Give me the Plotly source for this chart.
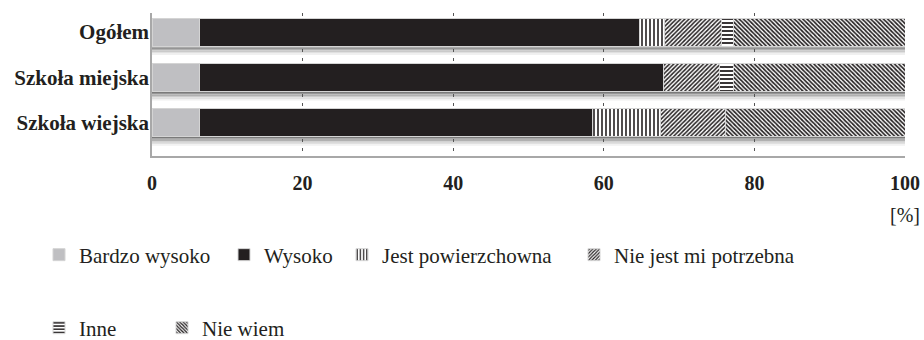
import plotly.graph_objects as go

categories = ["Ogółem", "Szkoła miejska", "Szkoła wiejska"]
bardzo_wysoko = [6.3, 6.3, 6.3]
wysoko = [58.5, 61.6, 52.2]
powierzchowna = [3.3, 0.0, 9.0]
niepotrzebna = [7.5, 7.4, 8.7]
inne = [1.6, 1.9, 0.0]
nie_wiem = [22.8, 22.8, 23.8]
x_ticks = [0, 20, 40, 60, 80, 100]

series = [
    ("Bardzo wysoko", bardzo_wysoko, dict(color="#bfbfc2"), 80, 255),
    ("Wysoko", wysoko, dict(color="#231f20"), 265, 255),
    ("Jest powierzchowna", powierzchowna,
     dict(color="white", pattern=dict(shape="|", size=4, solidity=0.4, fgcolor="#231f20", bgcolor="white", fillmode="replace")), 383, 255),
    ("Nie jest mi potrzebna", niepotrzebna,
     dict(color="white", pattern=dict(shape="/", size=3, solidity=0.5, fgcolor="#231f20", bgcolor="white", fillmode="replace")), 615, 255),
    ("Inne", inne,
     dict(color="white", pattern=dict(shape="-", size=4, solidity=0.45, fgcolor="#231f20", bgcolor="white", fillmode="replace")), 80, 328),
    ("Nie wiem", nie_wiem,
     dict(color="white", pattern=dict(shape="\\", size=3, solidity=0.55, fgcolor="#231f20", bgcolor="white", fillmode="replace")), 203, 328),
]

W, H = 924, 340
ML, MR = 152, 19
MT = 13
MB = H - 156
PH = H - MT - MB
FONT = "Liberation Serif"
fig = go.Figure()
legend_names = ["legend", "legend2", "legend3", "legend4", "legend5", "legend6"]
for i, s in enumerate(series):
    name, vals, mk = s[0], s[1], s[2]
    fig.add_trace(go.Bar(
        name=name, y=categories, x=vals, orientation="h", width=0.615,
        marker=dict(line=dict(color="#d4d4d4", width=1), **mk),
        legend=legend_names[i],
    ))

legend_layouts = {}
for i, s in enumerate(series):
    text_x, row_y = s[3], s[4]
    legend_layouts[legend_names[i]] = dict(
        x=(text_x - 41) / W, xref="container", xanchor="left",
        y=1 - row_y / H, yref="container", yanchor="middle",
        orientation="h", bgcolor="rgba(0,0,0,0)",
        font=dict(family=FONT, size=21, color="#231f20"),
    )

# drop shadows beneath each bar
shadow_cols = ["#7a7a7a", "#959595", "#b0b0b0", "#cacaca", "#e0e0e0", "#f0f0f0"]
for ci in range(len(categories)):
    total = sum(s[1][ci] for s in series)
    for k, c in enumerate(shadow_cols):
        fig.add_shape(type="rect", xref="x", yref="y", x0=0, x1=total,
                      ysizemode="pixel", yanchor=ci,
                      y0=-14 - 1.5 * k, y1=-14 - 1.5 * (k + 1), line=dict(width=0),
                      fillcolor=c, layer="below")

fig.update_layout(
    width=W, height=H, barmode="stack",
    margin=dict(l=ML, r=MR, t=MT, b=MB, autoexpand=False),
    paper_bgcolor="white", plot_bgcolor="white",
    font=dict(family=FONT, color="#231f20"),
    showlegend=True,
    **legend_layouts,
)
fig.update_xaxes(
    range=[0, 100], tickvals=x_ticks, ticktext=[str(v) for v in x_ticks],
    showgrid=True, gridcolor="#555555", gridwidth=1, griddash="3px,6px",
    showline=True, linecolor="#a8a8a8", linewidth=1.5, zeroline=False,
    ticks="", ticklabelstandoff=8, automargin=False,
    tickfont=dict(family=FONT, size=20, color="#231f20", weight="bold"),
)
fig.update_yaxes(
    range=[2.73, -0.42], showgrid=False, showline=True, linecolor="#a8a8a8",
    linewidth=1.5, ticks="", ticklabelstandoff=-3, automargin=False,
    tickfont=dict(family=FONT, size=21, color="#231f20", weight="bold"),
)
fig.add_annotation(text="[%]", x=100, xref="x", y=(156 - 215) / PH, yref="paper",
                   xanchor="center", yanchor="middle", showarrow=False,
                   font=dict(family=FONT, size=20, color="#231f20"))

fig.write_html("out.html", config={"displayModeBar": False},
               post_script="document.body.style.margin='0';document.body.style.overflow='hidden';")
